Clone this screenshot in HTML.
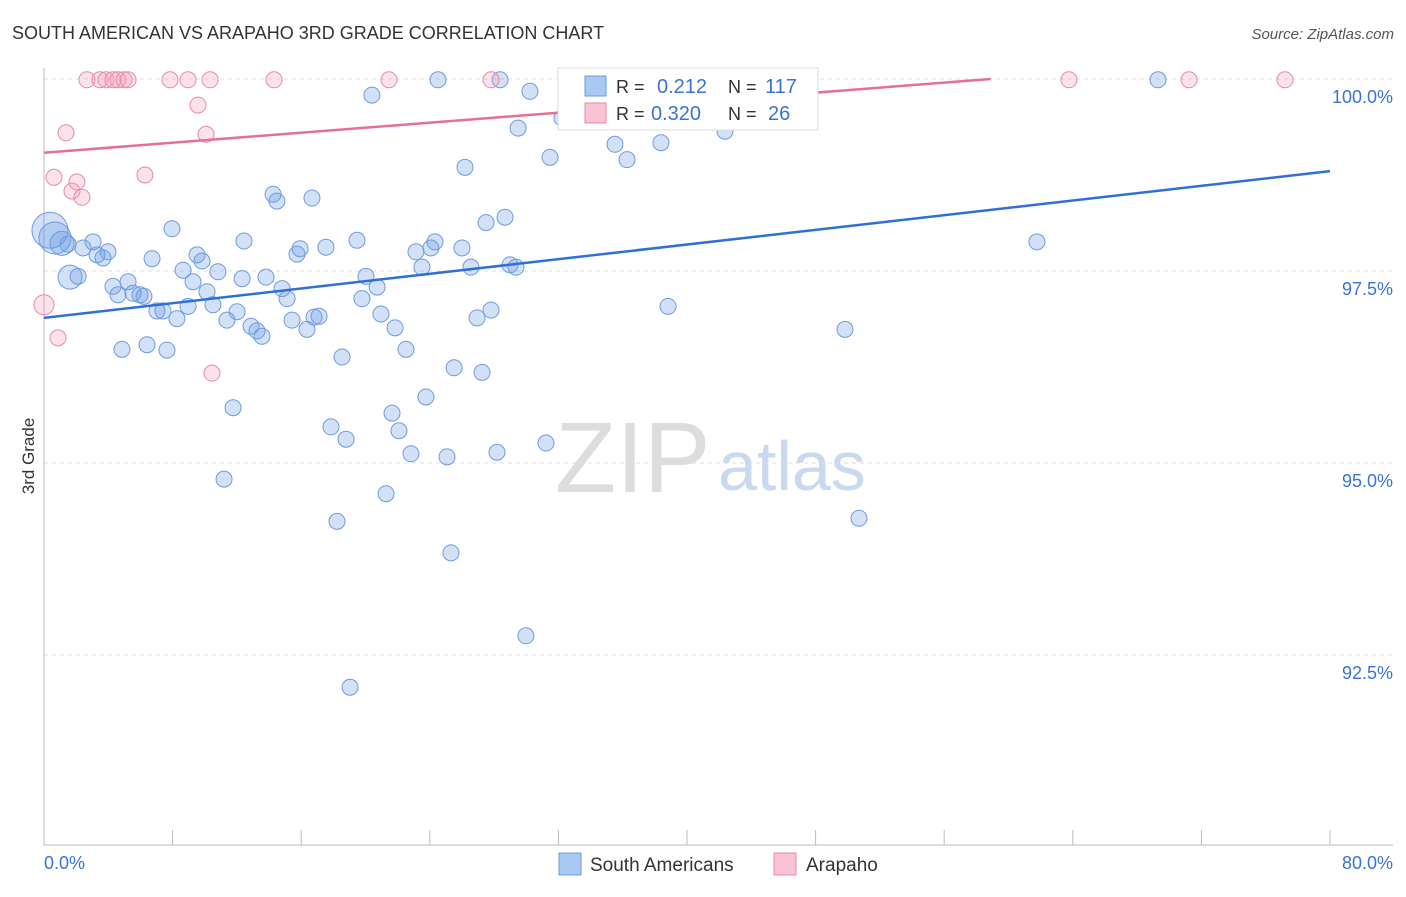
<!DOCTYPE html>
<html><head><meta charset="utf-8"><style>
body{margin:0;background:#fff;font-family:"Liberation Sans",sans-serif;}
svg text{font-family:"Liberation Sans",sans-serif;}
</style></head><body>
<svg id="chart" width="1406" height="892" xmlns="http://www.w3.org/2000/svg">
<text x="12" y="39" font-size="18" fill="#333">SOUTH AMERICAN VS ARAPAHO 3RD GRADE CORRELATION CHART</text>
<text x="1394" y="39" font-size="15" fill="#555" text-anchor="end" font-style="italic">Source: ZipAtlas.com</text>
<text transform="translate(34,456) rotate(-90)" font-size="17" fill="#333" text-anchor="middle">3rd Grade</text>
<g>
<text x="555" y="492" font-size="100" fill="#ddd" font-family="Liberation Serif,serif">ZIP</text>
<text x="718" y="490" font-size="70" fill="#c9d9f0">atlas</text>
</g>
<g id="grid"></g><g id="axes"></g><g id="pts"></g><g id="trends"></g>
<g>
<rect x="558" y="68" width="260" height="62" fill="#fff" stroke="#ddd"/>
<rect x="585" y="76" width="21" height="20" fill="#a9c8f3" stroke="#6f9be0"/>
<text x="616" y="93" font-size="18" fill="#333">R =</text>
<text x="657" y="93" font-size="20" fill="#3a73d4">0.212</text>
<text x="728" y="93" font-size="18" fill="#333">N =</text>
<text x="765" y="93" font-size="20" fill="#3a73d4">117</text>
<rect x="585" y="103" width="21" height="20" fill="#f9c3d3" stroke="#e98aa8"/>
<text x="616" y="120" font-size="18" fill="#333">R =</text>
<text x="651" y="120" font-size="20" fill="#3a73d4">0.320</text>
<text x="728" y="120" font-size="18" fill="#333">N =</text>
<text x="768" y="120" font-size="20" fill="#3a73d4">26</text>
</g>
<g>
<rect x="559" y="853" width="22" height="22" fill="#a9c8f3" stroke="#6f9be0"/>
<text x="590" y="871" font-size="19" fill="#333">South Americans</text>
<rect x="774" y="853" width="22" height="22" fill="#f9c3d3" stroke="#e98aa8"/>
<text x="806" y="871" font-size="19" fill="#333">Arapaho</text>
</g>
</svg>
<script>
const blueX=[0.37,0.68,1.12,1.62,2.12,1.49,2.43,3.05,3.30,3.67,3.98,4.29,4.60,4.85,5.23,5.54,5.97,6.22,6.41,6.72,7.03,7.40,7.65,7.96,8.27,8.65,8.96,9.27,9.52,9.83,10.14,10.51,10.82,11.38,11.76,11.20,12.01,12.32,12.44,12.88,13.25,13.56,13.81,14.25,14.49,14.81,15.12,15.43,15.74,15.93,16.36,16.67,16.80,17.11,17.54,17.85,18.23,18.54,18.79,19.04,19.47,19.78,20.03,20.40,20.72,20.96,21.28,21.65,21.84,22.08,22.52,22.83,23.14,23.51,23.76,24.07,24.32,24.51,25.07,25.32,25.51,26.00,26.19,26.56,26.94,27.25,27.50,27.81,28.18,28.37,28.68,28.99,29.36,29.49,29.98,30.23,31.23,31.48,32.22,32.72,35.52,36.27,38.38,38.82,39.32,42.36,49.83,50.70,61.77,69.30];
const blueY=[98.03,97.93,97.86,97.42,97.43,97.85,97.80,97.88,97.71,97.67,97.75,97.30,97.19,96.48,97.36,97.21,97.19,97.17,96.54,97.66,96.98,96.98,96.47,98.05,96.88,97.51,97.04,97.36,97.71,97.63,97.23,97.06,97.49,96.86,95.72,94.79,96.97,97.40,97.89,96.78,96.72,96.65,97.42,98.50,98.41,97.27,97.14,96.86,97.72,97.79,96.74,98.45,96.90,96.91,97.81,95.47,94.24,96.38,95.31,92.08,97.90,97.14,97.43,99.79,97.29,96.94,94.60,95.65,96.76,95.42,96.48,95.12,97.75,97.55,95.86,97.80,97.88,99.99,95.08,93.83,96.24,97.80,98.85,97.55,96.89,96.18,98.13,96.99,95.14,99.99,98.20,97.58,97.55,99.36,92.75,99.84,95.26,98.98,99.49,99.99,99.15,98.95,99.17,97.04,99.99,99.32,96.74,94.28,97.88,99.99];
const blueBig=[18,16,12,12,8,8];
const pinkX=[0,0.62,0.87,1.37,1.74,2.05,2.36,2.67,3.48,3.86,4.29,4.60,4.98,5.23,6.28,7.84,8.96,9.58,10.08,10.33,10.45,14.31,21.46,27.81,63.76,71.23,77.20];
const pinkY=[97.06,98.72,96.63,99.30,98.54,98.66,98.46,99.99,99.99,99.99,99.99,99.99,99.99,99.99,98.75,99.99,99.99,99.66,99.28,99.99,96.17,99.99,99.99,99.99,99.99,99.99,99.99];
const blueTrend=[96.89,98.80];
const pinkTrend=[99.04,0.0163];
const yTicks=[100,97.5,95,92.5];
const yTickLabels=["100.0%","97.5%","95.0%","92.5%"];
const NS="http://www.w3.org/2000/svg";
const sx=v=>44+v*16.075, sy=v=>79+(100-v)*76.8;
function mk(tag,attrs,parent){const e=document.createElementNS(NS,tag);for(const k in attrs)e.setAttribute(k,attrs[k]);document.getElementById(parent).appendChild(e);return e;}
yTicks.forEach((t,i)=>{
 const l=mk('line',{x1:44,x2:1393,y1:sy(t),y2:sy(t),stroke:'#ddd','stroke-dasharray':'4,4'},'grid');
 
 
 const tx=mk('text',{x:1393,y:sy(t)+24,'font-size':18,fill:'#3a73d4','text-anchor':'end'},'grid');
 tx.textContent=yTickLabels[i];
 
 
});
mk('line',{x1:44,x2:44,y1:68,y2:845,stroke:'#bbb'},'axes');
mk('line',{x1:44,x2:1393,y1:845,y2:845,stroke:'#bbb'},'axes');
for(let i=0;i<=10;i++){const t=mk('line',{x1:sx(i*8),x2:sx(i*8),y1:830,y2:845,stroke:'#bbb'},'axes');
 
 }
const xl=mk('text',{x:44,y:869,'font-size':18,fill:'#3a73d4'},'axes');xl.textContent='0.0%';


const xr=mk('text',{x:1393,y:869,'font-size':18,fill:'#3a73d4','text-anchor':'end'},'axes');xr.textContent='80.0%';


blueX.forEach((x,i)=>{const c=mk('circle',{cx:sx(x),cy:sy(blueY[i]),r:blueBig[i]||8,fill:'rgba(110,155,230,0.3)',stroke:'#6f9be0','stroke-width':1},'pts');
 
 });
pinkX.forEach((x,i)=>{const c=mk('circle',{cx:sx(x),cy:sy(pinkY[i]),r:i==0?10:8,fill:'rgba(245,160,190,0.3)',stroke:'#e98aa8','stroke-width':1},'pts');
 
 });
const bl=mk('line',{x1:sx(0),y1:sy(blueTrend[0]),x2:sx(80),y2:sy(blueTrend[1]),stroke:'#2f6fd6','stroke-width':2.5},'trends');


const xEnd=Math.min(80,(100-pinkTrend[0])/pinkTrend[1]);
const pl=mk('line',{x1:sx(0),y1:sy(pinkTrend[0]),x2:sx(xEnd),y2:sy(pinkTrend[0]+pinkTrend[1]*xEnd),stroke:'#e56f97','stroke-width':2.5},'trends');


</script>
</body></html>
